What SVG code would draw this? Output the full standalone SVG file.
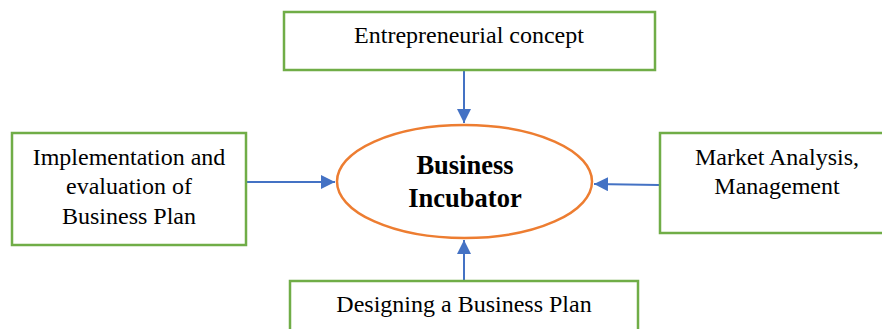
<svg xmlns="http://www.w3.org/2000/svg" width="882" height="329" viewBox="0 0 882 329">
<style>
.box{fill:#fff;stroke:#70AD47;stroke-width:2.5}
.ell{fill:#fff;stroke:#ED7D31;stroke-width:2.5}
.t{font-family:"Liberation Serif","Times New Roman",serif;font-size:24px;fill:#000;text-anchor:middle}
.b{font-family:"Liberation Serif","Times New Roman",serif;font-size:26.5px;font-weight:bold;fill:#000;text-anchor:middle}
.c{stroke:#4472C4;stroke-width:2;fill:none;marker-end:url(#ah)}
</style>
<defs>
<marker id="ah" markerUnits="userSpaceOnUse" markerWidth="14" markerHeight="14" refX="14" refY="7" orient="auto">
<path d="M0,0 L14,7 L0,14 z" fill="#4472C4"/>
</marker>
</defs>
<rect width="882" height="329" fill="#fff"/>
<g id="connectors">
<line class="c" x1="464" y1="71" x2="464" y2="123"/>
<line class="c" x1="247" y1="182" x2="335" y2="182"/>
<line class="c" x1="659" y1="185" x2="594" y2="184"/>
<line class="c" x1="464" y1="280" x2="464" y2="240"/>
</g>
<g id="entrepreneurial-concept">
<rect class="box" x="284" y="12" width="371" height="58"/>
<text class="t" x="469" y="43">Entrepreneurial concept</text>
</g>
<g id="implementation">
<rect class="box" x="12" y="133" width="234" height="112"/>
<text class="t" x="129" y="165">Implementation and</text>
<text class="t" x="129" y="194">evaluation of</text>
<text class="t" x="129" y="224">Business Plan</text>
</g>
<g id="market-analysis">
<rect class="box" x="660" y="133" width="240" height="100"/>
<text class="t" x="777" y="165">Market Analysis,</text>
<text class="t" x="777" y="194">Management</text>
</g>
<g id="designing">
<rect class="box" x="290" y="281" width="348" height="70"/>
<text class="t" x="464" y="312">Designing a Business Plan</text>
</g>
<g id="business-incubator">
<ellipse class="ell" cx="464.5" cy="181.5" rx="127.5" ry="56.5"/>
<text class="b" x="465" y="174">Business</text>
<text class="b" x="465" y="207">Incubator</text>
</g>
</svg>
